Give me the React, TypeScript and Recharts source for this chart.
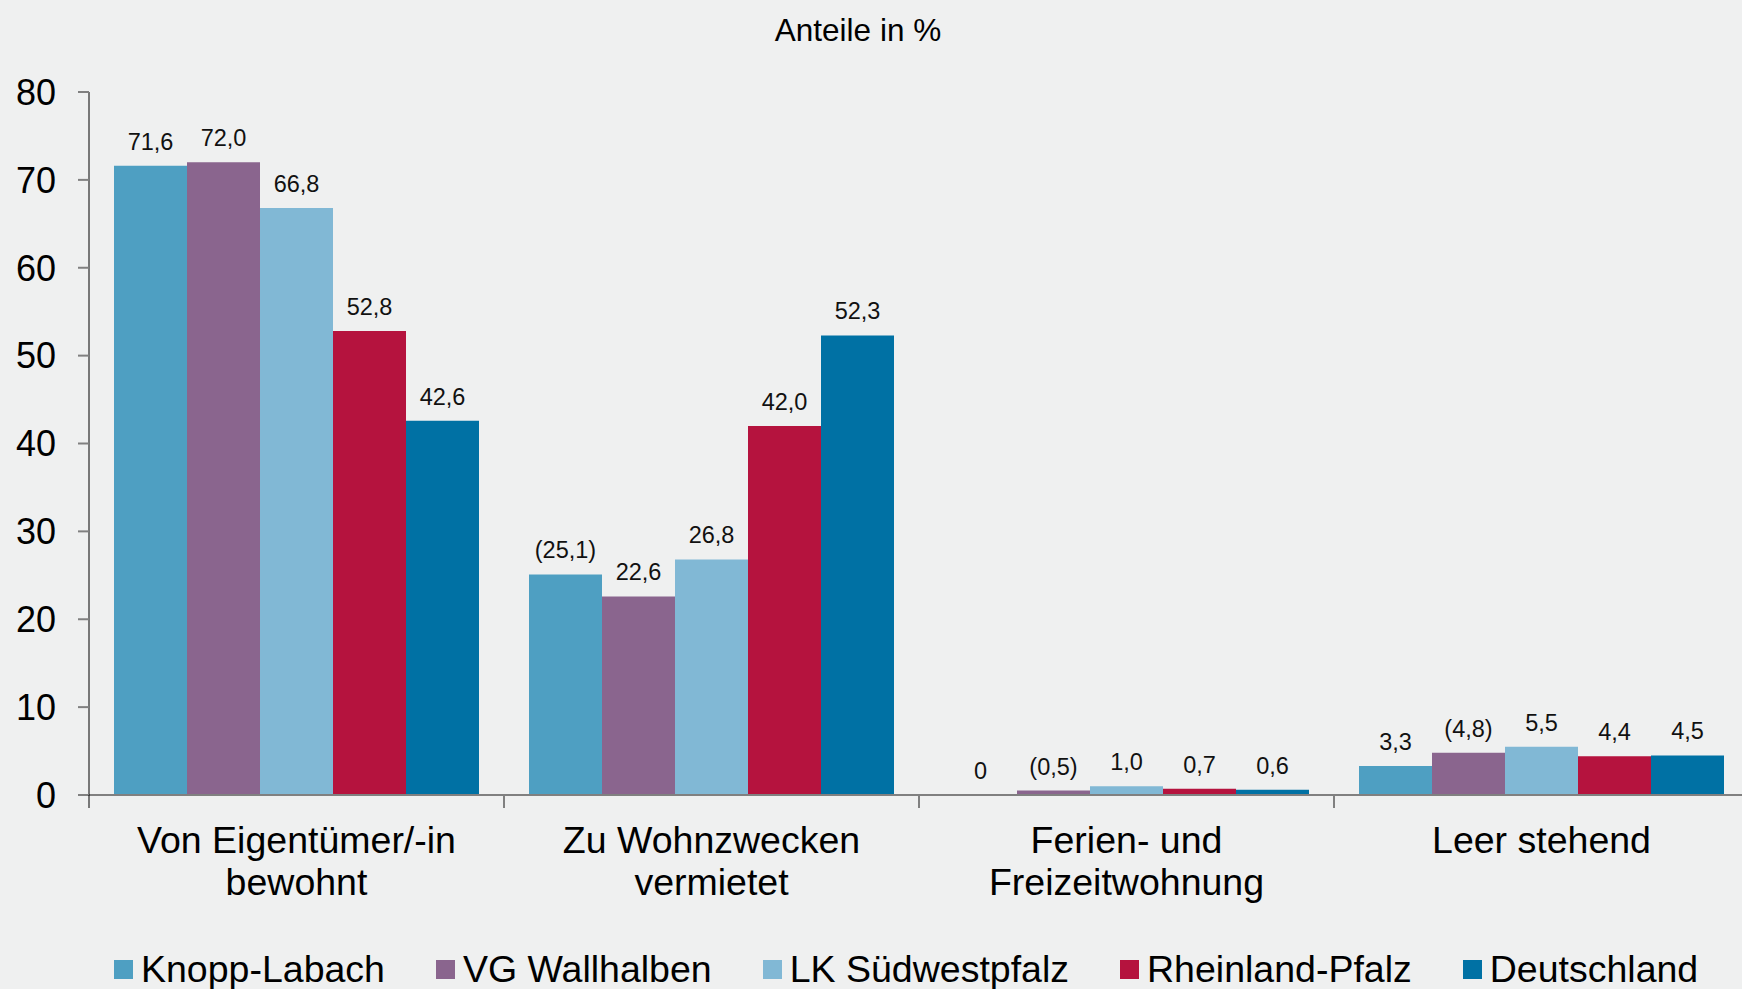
import { Bar, BarChart, LabelList, XAxis, YAxis } from "recharts"

const categories = ["Von Eigentümer/-in bewohnt", "Zu Wohnzwecken vermietet", "Ferien- und Freizeitwohnung", "Leer stehend"]
const categoryLines = [["Von Eigentümer/-in", "bewohnt"], ["Zu Wohnzwecken", "vermietet"], ["Ferien- und", "Freizeitwohnung"], ["Leer stehend"]]

const knoppLabach = [71.6, 25.1, 0, 3.3]
const vgWallhalben = [72.0, 22.6, 0.5, 4.8]
const lkSuedwestpfalz = [66.8, 26.8, 1.0, 5.5]
const rheinlandPfalz = [52.8, 42.0, 0.7, 4.4]
const deutschland = [42.6, 52.3, 0.6, 4.5]

// printed labels (bracketed values as in the source)
const knoppLabels = ["71,6", "(25,1)", "0", "3,3"]
const vgLabels = ["72,0", "22,6", "(0,5)", "(4,8)"]
const lkLabels = ["66,8", "26,8", "1,0", "5,5"]
const rpLabels = ["52,8", "42,0", "0,7", "4,4"]
const deLabels = ["42,6", "52,3", "0,6", "4,5"]

const yTicks = [0, 10, 20, 30, 40, 50, 60, 70, 80]

const series = [
  { key: "knopp", name: "Knopp-Labach", values: knoppLabach, labels: knoppLabels, color: "#4e9fc2" },
  { key: "vg", name: "VG Wallhalben", values: vgWallhalben, labels: vgLabels, color: "#8a658e" },
  { key: "lk", name: "LK Südwestpfalz", values: lkSuedwestpfalz, labels: lkLabels, color: "#81b8d5" },
  { key: "rp", name: "Rheinland-Pfalz", values: rheinlandPfalz, labels: rpLabels, color: "#b5133e" },
  { key: "de", name: "Deutschland", values: deutschland, labels: deLabels, color: "#0071a4" },
]

const data = categories.map((name, i) => {
  const row: Record<string, string | number> = { name }
  series.forEach((s) => {
    row[s.key] = s.values[i]
    row[s.key + "Label"] = s.labels[i]
  })
  return row
})

const FONT = "'Liberation Sans', Arial, sans-serif"
const BG = "#eff0f0"

function CategoryTick(props: any) {
  const { x, y, payload, index, width } = props
  const band = (width || 1660) / categories.length
  const lines = categoryLines[payload.index ?? index] || [payload.value]
  const bx = x - band / 2
  return (
    <g>
      <line x1={bx} y1={y} x2={bx} y2={y + 13} stroke={index === 0 ? "#000" : "#808080"} strokeWidth={index === 0 ? 1 : 2} />
      {lines.map((l: string, i: number) => (
        <text key={i} x={x} y={y + 58 + i * 42} textAnchor="middle" fontSize={37.5} fill="#000" fontFamily={FONT}>
          {l}
        </text>
      ))}
    </g>
  )
}

function BarLabel(props: any) {
  const { x, y, width, value } = props
  return (
    <text x={x + width / 2} y={y - 16} textAnchor="middle" fontSize={23.5} fill="#111" fontFamily={FONT}>
      {value}
    </text>
  )
}

export default function App() {
  return (
    <div style={{ position: "relative", width: 1742, height: 989, background: BG, fontFamily: FONT, overflow: "hidden" }}>
      <style>{`html, body { margin: 0; padding: 0; background: ${BG}; }`}</style>
      <div style={{ position: "absolute", left: 0, width: 1716, top: 12, textAlign: "center", fontSize: 31.5, color: "#000" }}>
        Anteile in %
      </div>
      <BarChart
        width={1742}
        height={989}
        data={data}
        margin={{ top: 92, right: -7, left: 0, bottom: 74 }}
        barCategoryGap={25}
        barGap={0}
      >
        <XAxis
          dataKey="name"
          height={120}
          axisLine={{ stroke: "#808080", strokeWidth: 2 }}
          tickLine={false}
          tickSize={0}
          tickMargin={0}
          interval={0}
          tick={<CategoryTick />}
        />
        <YAxis
          width={89}
          domain={[0, 80]}
          ticks={yTicks}
          axisLine={{ stroke: "#000", strokeWidth: 1 }}
          tickLine={{ stroke: "#808080", strokeWidth: 2 }}
          tickSize={11}
          tickMargin={22}
          tick={{ fontSize: 36, fill: "#000", fontFamily: FONT }}
        />
        {series.map((s) => (
          <Bar key={s.key} dataKey={s.key} name={s.name} fill={s.color} minPointSize={(v: number) => (v === 0 ? 0.5 : 0)} isAnimationActive={false}>
            <LabelList dataKey={s.key + "Label"} content={<BarLabel />} />
          </Bar>
        ))}
      </BarChart>
      <div
        style={{
          position: "absolute",
          left: 114,
          top: 948,
          display: "flex",
          alignItems: "center",
          gap: 51,
          fontSize: 37.5,
          color: "#000",
          whiteSpace: "nowrap",
        }}
      >
        {series.map((s) => (
          <div key={s.key} style={{ display: "flex", alignItems: "center" }}>
            <span style={{ display: "inline-block", width: 19, height: 19, background: s.color, marginRight: 8 }} />
            <span>{s.name}</span>
          </div>
        ))}
      </div>
    </div>
  )
}
